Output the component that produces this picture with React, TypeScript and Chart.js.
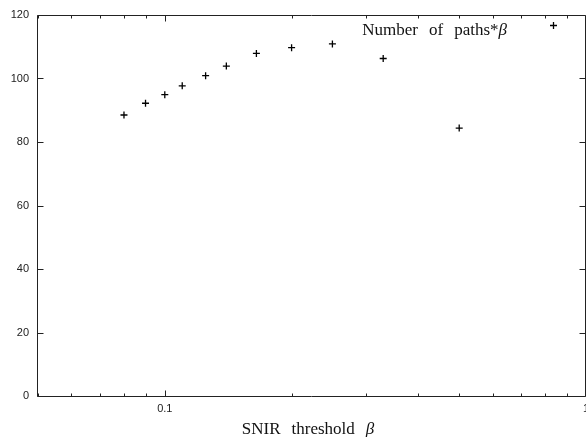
import React, { useEffect, useRef } from 'react';
import { Chart, registerables } from 'chart.js';

Chart.register(...registerables);

// ---- data ----
const betaValues = [0.08, 0.09, 0.1, 0.11, 0.125, 0.14, 0.165, 0.2, 0.25, 0.33, 0.5];
const pathsTimesBeta = [88.5, 92.2, 94.9, 97.7, 100.9, 103.9, 107.9, 109.7, 110.9, 106.3, 84.4];
const yTickValues = [0, 20, 40, 60, 80, 100, 120];
const xMajorTicks = [0.1, 1];
const xMin = 0.05;
const xMax = 1;
const seriesWords = [
  { t: 'Number', it: false },
  { t: 'of', it: false },
  { t: 'paths*', it: false },
  { t: 'β', it: true, join: true },
];
const xTitleWords = [
  { t: 'SNIR', it: false },
  { t: 'threshold', it: false },
  { t: 'β', it: true },
];

type Word = { t: string; it: boolean; join?: boolean };

const SERIF = '"Liberation Serif", "Times New Roman", serif';
const SANS = '"Liberation Sans", Arial, sans-serif';
const WORD_GAP = 11;

function measureWords(ctx: CanvasRenderingContext2D, words: Word[], size: number) {
  let w = 0;
  words.forEach((wd, i) => {
    ctx.font = `${wd.it ? 'italic ' : ''}${size}px ${SERIF}`;
    if (i > 0 && !wd.join) w += WORD_GAP;
    w += ctx.measureText(wd.t).width;
  });
  return w;
}

function drawWords(ctx: CanvasRenderingContext2D, words: Word[], size: number, x: number, y: number) {
  let cx = x;
  ctx.textAlign = 'left';
  ctx.textBaseline = 'alphabetic';
  words.forEach((wd, i) => {
    ctx.font = `${wd.it ? 'italic ' : ''}${size}px ${SERIF}`;
    if (i > 0 && !wd.join) cx += WORD_GAP;
    ctx.fillText(wd.t, cx, y);
    cx += ctx.measureText(wd.t).width;
  });
}

const framePlugin = {
  id: 'gnuframe',
  afterDraw(chart: any) {
    const { ctx, chartArea: a, scales } = chart;
    const xs = scales.x;
    const ys = scales.y;
    const L = a.left - 0.5;
    const R = a.right - 0.5;
    const T = a.top + 0.5;
    const B = a.bottom + 0.5;
    ctx.save();
    ctx.strokeStyle = '#222';
    ctx.lineWidth = 1;
    ctx.beginPath();
    ctx.rect(L, T, R - L, B - T);
    // y ticks (inward, both sides)
    yTickValues.forEach((v) => {
      const py = Math.round(ys.getPixelForValue(v)) + 0.5;
      ctx.moveTo(L, py);
      ctx.lineTo(L + 6, py);
      ctx.moveTo(R, py);
      ctx.lineTo(R - 6, py);
    });
    // x ticks (log, inward, top and bottom)
    const d0 = Math.floor(Math.log10(xMin));
    const d1 = Math.ceil(Math.log10(xMax));
    for (let d = d0; d <= d1; d++) {
      for (let k = 1; k <= 9; k++) {
        const v = k * Math.pow(10, d);
        if (v < xMin * 0.999 || v > xMax * 1.001) continue;
        const major = xMajorTicks.some((m) => Math.abs(m - v) < 1e-9);
        const len = major ? 6 : 3;
        const px = Math.round(xs.getPixelForValue(v)) + 0.5;
        ctx.moveTo(px, B);
        ctx.lineTo(px, B - len);
        ctx.moveTo(px, T);
        ctx.lineTo(px, T + len);
      }
    }
    ctx.stroke();

    ctx.fillStyle = '#111';
    // x axis title
    const tw = measureWords(ctx, xTitleWords, 17);
    const cx = (a.left + a.right) / 2 - 4;
    drawWords(ctx, xTitleWords, 17, cx - tw / 2, 434);

    // legend (text then sample marker)
    const lw = measureWords(ctx, seriesWords, 17);
    drawWords(ctx, seriesWords, 17, 507 - lw, 35);
    const mx = 553.5;
    const my = 25.5;
    ctx.beginPath();
    ctx.lineWidth = 1.3;
    ctx.strokeStyle = '#000';
    ctx.moveTo(mx - 3.5, my);
    ctx.lineTo(mx + 3.5, my);
    ctx.moveTo(mx, my - 3.5);
    ctx.lineTo(mx, my + 3.5);
    ctx.stroke();
    ctx.restore();
  },
};

export default function App() {
  const ref = useRef<HTMLCanvasElement | null>(null);

  useEffect(() => {
    if (!ref.current) return;
    const chart = new Chart(ref.current, {
      type: 'scatter',
      data: {
        datasets: [
          {
            label: 'Number of paths*β',
            data: betaValues.map((x, i) => ({ x, y: pathsTimesBeta[i] })),
            pointStyle: 'cross',
            pointRadius: 3.5,
            pointBorderWidth: 1.3,
            borderColor: '#000',
            backgroundColor: '#000',
            showLine: false,
          },
        ],
      },
      options: {
        animation: false,
        responsive: false,
        devicePixelRatio: 1,
        layout: { autoPadding: false, padding: { top: 15, right: 0, left: 0, bottom: 0 } },
        plugins: { legend: { display: false }, tooltip: { enabled: false } },
        scales: {
          x: {
            type: 'logarithmic',
            min: xMin,
            max: xMax,
            grid: { display: false, drawTicks: false },
            border: { display: false },
            afterBuildTicks: (scale: any) => {
              scale.ticks = xMajorTicks.map((v) => ({ value: v }));
            },
            afterFit: (scale: any) => {
              scale.height = 41;
              scale.paddingLeft = 0;
              scale.paddingRight = 0;
            },
            ticks: {
              autoSkip: false,
              maxRotation: 0,
              padding: 6,
              color: '#222',
              font: { family: SANS, size: 11 },
              callback: (v: any) => String(v),
            },
          },
          y: {
            min: 0,
            max: 120,
            grid: { display: false, drawTicks: false },
            border: { display: false },
            afterBuildTicks: (scale: any) => {
              scale.ticks = yTickValues.map((v) => ({ value: v }));
            },
            afterFit: (scale: any) => {
              scale.width = 38;
              scale.paddingTop = 0;
              scale.paddingBottom = 0;
            },
            ticks: {
              padding: 9,
              color: '#222',
              font: { family: SANS, size: 11 },
              callback: (v: any) => String(v),
            },
          },
        },
      },
      plugins: [framePlugin],
    } as any);
    return () => chart.destroy();
  }, []);

  return (
    <div style={{ position: 'fixed', left: 0, top: 0, width: 586, height: 437, background: '#fff' }}>
      <canvas ref={ref} width={586} height={437} style={{ display: 'block' }} />
    </div>
  );
}
